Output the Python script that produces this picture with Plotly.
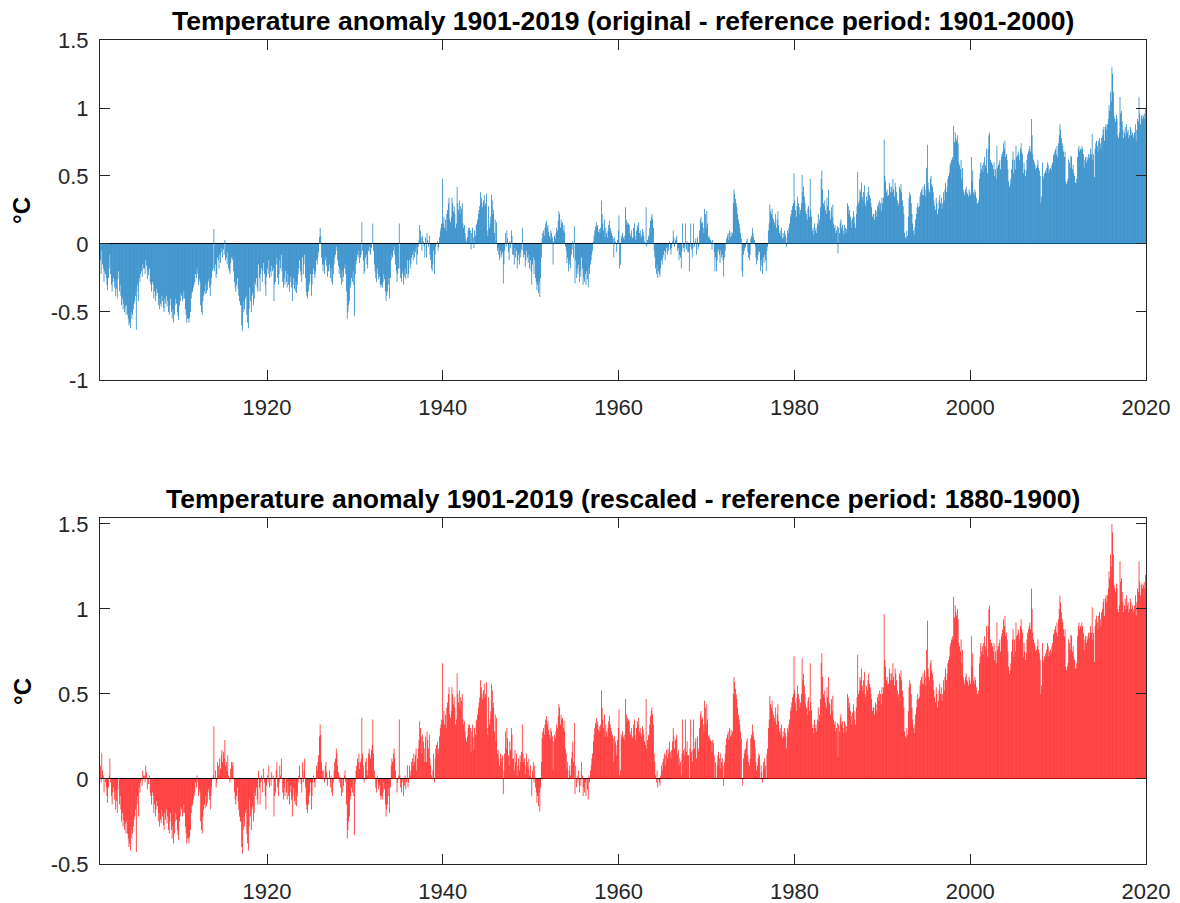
import numpy as np
import plotly.graph_objects as go

# Monthly global temperature anomalies (degC, relative to 1901-2000), one row per year
anom_1901_1910 = [
    -0.12, -0.22, -0.05, -0.15, -0.18, -0.28, -0.20, -0.22, -0.25, -0.30, -0.34, -0.25,
    -0.18, -0.08, -0.22, -0.30, -0.35, -0.28, -0.25, -0.32, -0.27, -0.38, -0.33, -0.40,
    -0.26, -0.20, -0.35, -0.30, -0.38, -0.45, -0.40, -0.48, -0.44, -0.50, -0.46, -0.52,
    -0.45, -0.52, -0.55, -0.60, -0.58, -0.62, -0.50, -0.55, -0.52, -0.48, -0.44, -0.42,
    -0.38, -0.63, -0.35, -0.30, -0.42, -0.25, -0.28, -0.22, -0.20, -0.24, -0.15, -0.18,
    -0.18, -0.22, -0.12, -0.16, -0.26, -0.20, -0.23, -0.18, -0.28, -0.30, -0.35, -0.28,
    -0.30, -0.40, -0.35, -0.42, -0.38, -0.33, -0.36, -0.45, -0.40, -0.48, -0.44, -0.46,
    -0.38, -0.42, -0.47, -0.50, -0.40, -0.44, -0.38, -0.46, -0.42, -0.50, -0.52, -0.45,
    -0.40, -0.50, -0.55, -0.48, -0.58, -0.52, -0.45, -0.40, -0.44, -0.50, -0.53, -0.56,
    -0.45, -0.42, -0.36, -0.38, -0.42, -0.40, -0.35, -0.40, -0.48, -0.52, -0.58, -0.55,
]
anom_1911_1920 = [
    -0.55, -0.58, -0.54, -0.50, -0.40, -0.36, -0.35, -0.32, -0.30, -0.28, -0.22, -0.25,
    -0.18, -0.22, -0.30, -0.26, -0.28, -0.45, -0.50, -0.52, -0.42, -0.38, -0.35, -0.37,
    -0.30, -0.36, -0.34, -0.28, -0.26, -0.32, -0.38, -0.30, -0.25, -0.20, -0.18, 0.11,
    -0.20, -0.15, -0.25, -0.22, -0.10, -0.12, -0.18, -0.08, -0.14, -0.06, -0.03, -0.10,
    -0.04, -0.08, 0.03, -0.12, -0.10, -0.15, -0.06, -0.18, -0.20, -0.22, -0.14, -0.10,
    -0.12, -0.10, -0.20, -0.28, -0.32, -0.35, -0.30, -0.25, -0.33, -0.38, -0.42, -0.45,
    -0.45, -0.60, -0.64, -0.50, -0.42, -0.48, -0.40, -0.38, -0.52, -0.58, -0.62, -0.48,
    -0.32, -0.42, -0.50, -0.38, -0.36, -0.45, -0.40, -0.28, -0.30, -0.25, -0.32, -0.35,
    -0.15, -0.25, -0.35, -0.22, -0.18, -0.28, -0.20, -0.14, -0.22, -0.30, -0.38, -0.24,
    -0.18, -0.22, -0.12, -0.25, -0.20, -0.24, -0.16, -0.20, -0.18, -0.42, -0.30, -0.28,
]
anom_1921_1930 = [
    -0.15, -0.10, -0.25, -0.30, -0.22, -0.12, -0.18, -0.08, -0.20, -0.28, -0.32, -0.25,
    -0.30, -0.20, -0.28, -0.32, -0.22, -0.30, -0.35, -0.28, -0.24, -0.32, -0.42, -0.30,
    -0.25, -0.33, -0.35, -0.28, -0.36, -0.30, -0.22, -0.18, -0.12, -0.20, -0.23, -0.28,
    -0.10, -0.22, -0.15, -0.08, -0.25, -0.35, -0.38, -0.40, -0.35, -0.30, -0.28, -0.22,
    -0.38, -0.30, -0.22, -0.18, -0.22, -0.25, -0.20, -0.12, -0.15, -0.10, -0.06, 0.05,
    0.12, 0.06, -0.10, -0.15, -0.20, -0.15, -0.22, -0.12, -0.10, -0.16, -0.24, -0.20,
    -0.20, -0.15, -0.25, -0.18, -0.28, -0.30, -0.22, -0.15, -0.10, -0.08, -0.02, -0.05,
    -0.12, -0.16, -0.22, -0.18, -0.25, -0.30, -0.20, -0.28, -0.24, -0.18, -0.15, -0.22,
    -0.35, -0.55, -0.50, -0.45, -0.42, -0.32, -0.30, -0.25, -0.28, -0.20, -0.30, -0.53,
    -0.22, -0.15, -0.12, -0.08, -0.10, -0.05, -0.14, -0.10, -0.08, 0.16, -0.05, -0.12,
]
anom_1931_1940 = [
    -0.22, -0.20, -0.10, -0.08, -0.15, -0.18, -0.05, -0.02, -0.06, -0.08, -0.03, 0.00,
    0.15, -0.05, -0.15, -0.20, -0.25, -0.28, -0.18, -0.22, -0.26, -0.24, -0.30, -0.32,
    -0.30, -0.32, -0.28, -0.22, -0.26, -0.35, -0.42, -0.38, -0.35, -0.30, -0.25, -0.40,
    -0.25, -0.12, -0.08, -0.10, -0.05, -0.02, -0.08, -0.15, -0.20, -0.28, -0.22, -0.18,
    0.15, -0.18, -0.25, -0.28, -0.22, -0.20, -0.30, -0.24, -0.18, -0.26, -0.22, -0.12,
    -0.25, -0.22, -0.12, -0.18, -0.15, -0.10, -0.08, -0.12, -0.05, -0.10, -0.06, -0.02,
    -0.15, -0.08, -0.02, 0.03, 0.14, 0.10, 0.05, -0.05, 0.06, 0.02, -0.02, -0.10,
    0.05, -0.10, 0.08, 0.03, -0.02, 0.06, -0.08, -0.12, -0.18, -0.20, -0.15, -0.05,
    -0.22, -0.08, -0.02, 0.00, 0.02, -0.05, -0.02, 0.05, 0.10, 0.12, 0.15, 0.48,
    0.15, 0.20, 0.12, 0.18, 0.10, 0.22, 0.25, 0.30, 0.34, 0.18, 0.16, 0.20,
]
anom_1941_1950 = [
    0.34, 0.30, 0.24, 0.28, 0.22, 0.12, 0.15, 0.42, 0.30, 0.25, 0.32, 0.22,
    0.28, 0.26, 0.30, 0.15, 0.12, 0.14, 0.08, 0.04, 0.02, 0.05, 0.10, 0.12,
    0.12, 0.10, -0.04, 0.08, 0.12, 0.05, -0.03, 0.10, 0.06, 0.14, 0.15, 0.18,
    0.22, 0.25, 0.28, 0.38, 0.34, 0.30, 0.27, 0.32, 0.36, 0.28, 0.30, 0.37,
    0.10, 0.06, 0.28, 0.12, 0.15, 0.20, 0.36, 0.32, 0.22, 0.25, 0.08, 0.18,
    0.02, 0.16, -0.05, -0.03, -0.08, -0.12, -0.05, -0.10, -0.08, -0.06, -0.29, -0.15,
    -0.05, 0.08, -0.02, 0.10, 0.04, -0.06, -0.12, 0.02, -0.03, 0.10, 0.06, -0.08,
    -0.08, -0.15, -0.03, -0.10, -0.05, -0.18, -0.12, -0.08, -0.15, -0.06, -0.10, -0.04,
    0.12, -0.05, -0.10, -0.08, -0.17, -0.12, -0.05, -0.10, -0.14, -0.08, -0.18, -0.12,
    -0.20, -0.30, -0.15, -0.10, -0.22, -0.12, -0.25, -0.28, -0.34, -0.30, -0.36, -0.28,
]
anom_1951_1960 = [
    -0.39, -0.25, -0.10, 0.04, 0.08, 0.10, 0.06, 0.12, 0.15, 0.17, 0.12, 0.14,
    0.09, 0.06, 0.04, 0.10, 0.08, 0.05, -0.15, 0.02, 0.06, 0.04, 0.08, 0.12,
    0.10, 0.17, 0.24, 0.22, 0.12, 0.18, 0.15, 0.16, 0.10, 0.14, 0.08, -0.02,
    -0.05, -0.14, -0.10, -0.20, -0.15, -0.12, -0.18, -0.08, -0.04, 0.02, -0.10, 0.13,
    -0.29, -0.12, -0.25, -0.18, -0.22, -0.15, -0.28, -0.20, -0.24, -0.10, -0.18, -0.30,
    -0.25, -0.28, -0.22, -0.30, -0.20, -0.26, -0.32, -0.18, -0.22, -0.15, -0.12, -0.08,
    -0.05, 0.02, 0.06, 0.10, 0.13, 0.16, 0.12, 0.14, 0.09, 0.11, 0.08, 0.12,
    0.32, 0.22, 0.15, 0.10, 0.18, 0.05, 0.12, 0.08, 0.05, 0.10, 0.14, 0.17,
    0.12, 0.10, 0.08, 0.06, 0.04, -0.10, 0.05, 0.02, 0.00, -0.06, 0.03, 0.10,
    0.21, -0.18, -0.15, 0.06, 0.04, 0.08, 0.05, 0.03, 0.06, 0.27, 0.18, 0.14,
]
anom_1961_1970 = [
    0.16, 0.15, 0.14, 0.08, 0.06, 0.10, 0.04, 0.05, 0.12, 0.15, 0.06, 0.03,
    0.10, 0.14, 0.12, 0.16, 0.08, 0.10, 0.07, 0.05, 0.11, 0.09, 0.06, 0.02,
    0.00, 0.27, -0.02, 0.03, 0.06, 0.05, 0.12, 0.17, 0.20, 0.22, 0.18, 0.12,
    -0.05, -0.10, -0.18, -0.22, -0.15, -0.25, -0.20, -0.22, -0.24, -0.18, -0.12, -0.15,
    -0.10, -0.08, -0.05, -0.12, -0.06, -0.03, -0.08, -0.02, -0.05, 0.02, -0.04, -0.08,
    -0.03, 0.02, 0.10, 0.05, -0.02, 0.03, 0.04, 0.06, -0.05, -0.03, -0.12, -0.08,
    -0.10, -0.18, -0.05, 0.15, -0.03, -0.06, -0.02, 0.15, -0.04, 0.02, -0.06, -0.06,
    -0.20, -0.02, 0.15, -0.04, -0.10, -0.03, 0.15, -0.02, 0.02, 0.04, -0.08, 0.05,
    -0.04, -0.02, 0.10, 0.18, 0.20, 0.15, 0.16, 0.12, 0.08, 0.26, 0.22, 0.12,
    0.24, 0.15, 0.05, 0.06, 0.04, 0.03, 0.02, -0.04, 0.03, 0.01, -0.06, -0.20,
]
anom_1971_1980 = [
    -0.10, -0.20, -0.12, -0.06, -0.04, -0.08, -0.14, -0.05, -0.10, -0.08, -0.12, -0.24,
    -0.10, -0.05, 0.00, 0.04, 0.06, 0.08, 0.03, 0.10, 0.05, 0.09, 0.06, 0.08,
    0.30, 0.40, 0.37, 0.33, 0.30, 0.27, 0.22, 0.18, 0.15, 0.12, 0.08, 0.04,
    -0.20, -0.24, -0.08, -0.05, -0.03, -0.02, 0.02, 0.04, -0.06, -0.10, -0.12, -0.08,
    0.04, 0.06, 0.12, 0.08, 0.05, 0.03, -0.02, -0.10, -0.15, -0.12, -0.08, -0.05,
    -0.06, -0.20, -0.12, -0.16, -0.22, -0.10, -0.14, -0.08, -0.12, -0.20, -0.05, -0.02,
    0.10, 0.15, 0.29, 0.24, 0.22, 0.26, 0.20, 0.18, 0.16, 0.14, 0.22, 0.12,
    0.18, 0.24, 0.14, 0.08, 0.10, 0.06, 0.12, 0.04, 0.08, 0.05, 0.10, 0.07,
    0.05, -0.02, 0.10, 0.08, 0.12, 0.15, 0.20, 0.22, 0.25, 0.28, 0.30, 0.52,
    0.32, 0.25, 0.20, 0.28, 0.35, 0.30, 0.27, 0.22, 0.25, 0.30, 0.51, 0.38,
]
anom_1981_1990 = [
    0.42, 0.35, 0.30, 0.24, 0.22, 0.18, 0.26, 0.28, 0.20, 0.48, 0.25, 0.20,
    0.10, 0.12, 0.07, 0.15, 0.10, 0.12, 0.08, 0.15, 0.22, 0.14, 0.18, 0.27,
    0.48, 0.54, 0.40, 0.30, 0.28, 0.32, 0.25, 0.22, 0.34, 0.28, 0.40, 0.25,
    0.24, 0.18, 0.27, 0.20, 0.29, 0.15, 0.12, 0.14, 0.08, 0.10, 0.13, -0.07,
    0.12, 0.08, 0.16, 0.18, 0.12, 0.14, 0.10, 0.07, 0.14, 0.12, 0.08, 0.11,
    0.30, 0.28, 0.22, 0.25, 0.20, 0.17, 0.12, 0.19, 0.24, 0.20, 0.15, 0.12,
    0.22, 0.28, 0.53, 0.30, 0.32, 0.40, 0.38, 0.45, 0.35, 0.32, 0.38, 0.43,
    0.30, 0.28, 0.35, 0.32, 0.38, 0.42, 0.36, 0.34, 0.30, 0.27, 0.20, 0.22,
    0.22, 0.18, 0.25, 0.24, 0.20, 0.28, 0.30, 0.26, 0.32, 0.30, 0.24, 0.34,
    0.30, 0.34, 0.77, 0.50, 0.46, 0.38, 0.40, 0.35, 0.36, 0.45, 0.42, 0.38,
]
anom_1991_2000 = [
    0.42, 0.38, 0.48, 0.40, 0.35, 0.45, 0.42, 0.38, 0.32, 0.28, 0.30, 0.42,
    0.40, 0.44, 0.38, 0.32, 0.28, 0.22, 0.08, 0.05, 0.04, 0.10, 0.06, 0.20,
    0.34, 0.38, 0.36, 0.30, 0.22, 0.15, 0.10, 0.07, 0.12, 0.18, 0.22, 0.27,
    0.30, 0.27, 0.28, 0.35, 0.38, 0.40, 0.36, 0.42, 0.36, 0.44, 0.40, 0.35,
    0.56, 0.73, 0.45, 0.40, 0.38, 0.48, 0.50, 0.44, 0.42, 0.38, 0.32, 0.28,
    0.25, 0.34, 0.30, 0.22, 0.26, 0.32, 0.36, 0.30, 0.34, 0.26, 0.30, 0.38,
    0.32, 0.40, 0.45, 0.38, 0.42, 0.48, 0.50, 0.52, 0.58, 0.60, 0.62, 0.64,
    0.62, 0.87, 0.75, 0.82, 0.78, 0.76, 0.80, 0.74, 0.60, 0.58, 0.55, 0.62,
    0.48, 0.56, 0.40, 0.38, 0.36, 0.40, 0.42, 0.38, 0.37, 0.35, 0.40, 0.38,
    0.36, 0.64, 0.46, 0.54, 0.38, 0.36, 0.40, 0.38, 0.34, 0.30, 0.30, 0.32,
]
anom_2001_2010 = [
    0.48, 0.52, 0.60, 0.55, 0.58, 0.53, 0.60, 0.64, 0.58, 0.56, 0.70, 0.52,
    0.70, 0.80, 0.82, 0.62, 0.60, 0.60, 0.58, 0.55, 0.60, 0.50, 0.55, 0.48,
    0.72, 0.56, 0.58, 0.60, 0.62, 0.55, 0.64, 0.66, 0.68, 0.74, 0.70, 0.76,
    0.64, 0.66, 0.62, 0.55, 0.46, 0.42, 0.44, 0.48, 0.55, 0.62, 0.68, 0.52,
    0.62, 0.55, 0.72, 0.64, 0.65, 0.68, 0.66, 0.62, 0.70, 0.74, 0.68, 0.66,
    0.52, 0.60, 0.55, 0.50, 0.54, 0.62, 0.66, 0.68, 0.70, 0.72, 0.68, 0.92,
    0.80, 0.66, 0.62, 0.60, 0.58, 0.55, 0.56, 0.58, 0.62, 0.56, 0.54, 0.50,
    0.30, 0.35, 0.60, 0.50, 0.48, 0.52, 0.54, 0.52, 0.56, 0.60, 0.58, 0.52,
    0.55, 0.56, 0.54, 0.58, 0.60, 0.65, 0.66, 0.68, 0.70, 0.66, 0.72, 0.64,
    0.74, 0.80, 0.88, 0.84, 0.78, 0.74, 0.72, 0.68, 0.64, 0.68, 0.46, 0.44,
]
anom_2011_2019 = [
    0.46, 0.48, 0.62, 0.60, 0.56, 0.65, 0.64, 0.55, 0.58, 0.52, 0.50, 0.45,
    0.45, 0.48, 0.64, 0.70, 0.72, 0.68, 0.70, 0.69, 0.72, 0.70, 0.66, 0.56,
    0.62, 0.64, 0.60, 0.64, 0.62, 0.66, 0.63, 0.66, 0.70, 0.66, 0.81, 0.62,
    0.66, 0.49, 0.70, 0.74, 0.76, 0.72, 0.68, 0.76, 0.78, 0.74, 0.70, 0.78,
    0.80, 0.84, 0.86, 0.76, 0.86, 0.88, 0.84, 0.88, 0.92, 1.02, 0.98, 1.12,
    1.05, 1.30, 1.25, 1.12, 0.94, 0.92, 0.90, 0.95, 0.92, 0.80, 0.78, 0.82,
    1.08, 0.96, 0.98, 0.90, 0.84, 0.78, 0.82, 0.86, 0.80, 0.88, 0.82, 0.84,
    0.78, 0.80, 0.86, 0.84, 0.80, 0.82, 0.78, 0.80, 0.82, 0.88, 0.76, 0.84,
    0.92, 0.90, 1.08, 0.96, 0.88, 0.94, 0.95, 0.92, 0.94, 0.96, 0.92, 1.00,
]

# Shift from the 1901-2000 baseline to the 1880-1900 baseline
baseline_shift = 0.20

first_year = 1901
x_ticks = [1920, 1940, 1960, 1980, 2000, 2020]
y_ticks_top = [-1, -0.5, 0, 0.5, 1, 1.5]
y_ticks_bottom = [-0.5, 0, 0.5, 1, 1.5]

original = np.array(
    anom_1901_1910 + anom_1911_1920 + anom_1921_1930 + anom_1931_1940
    + anom_1941_1950 + anom_1951_1960 + anom_1961_1970 + anom_1971_1980
    + anom_1981_1990 + anom_1991_2000 + anom_2001_2010 + anom_2011_2019
)
rescaled = original + baseline_shift
months = np.arange(len(original))
t = first_year + (months + 0.5) / 12.0

AXIS_COLOR = "#262626"
FONT = "Liberation Sans, Arial, Helvetica, sans-serif"
TOP_DOMAIN = [0.5874, 1.0]
BOTTOM_DOMAIN = [0.0, 0.4199]


def fmt(v):
    return "%g" % v


fig = go.Figure()
fig.add_trace(go.Bar(x=t, y=original, marker=dict(color="#0072BD", line=dict(width=0)),
                     xaxis="x", yaxis="y", showlegend=False))
fig.add_trace(go.Bar(x=t, y=rescaled, marker=dict(color="#FF0000", line=dict(width=0)),
                     xaxis="x2", yaxis="y2", showlegend=False))

common_x = dict(range=[1901, 2020], tickvals=x_ticks, ticktext=[str(v) for v in x_ticks],
                ticks="inside", ticklen=10, tickwidth=1, tickcolor=AXIS_COLOR,
                showline=True, linecolor=AXIS_COLOR, linewidth=1, mirror="ticks",
                showgrid=False, zeroline=False, layer="above traces",
                ticklabelstandoff=8, automargin=False,
                tickfont=dict(family=FONT, size=22, color=AXIS_COLOR))
common_y = dict(ticks="inside", ticklen=10, tickwidth=1, tickcolor=AXIS_COLOR,
                showline=True, linecolor=AXIS_COLOR, linewidth=1, mirror="ticks",
                showgrid=False, zeroline=True, zerolinecolor="#000000", zerolinewidth=1,
                layer="above traces", ticklabelstandoff=6, automargin=False,
                tickfont=dict(family=FONT, size=22, color=AXIS_COLOR))

title_font = dict(family=FONT, size=26.5, color="#000000")
label_font = dict(family=FONT, size=24, color="#000000")

fig.update_layout(
    width=1180, height=903,
    margin=dict(l=100, r=34, t=40, b=39, autoexpand=False),
    paper_bgcolor="white", plot_bgcolor="white",
    bargap=0.1,
    xaxis=dict(domain=[0, 1], anchor="y", **common_x),
    yaxis=dict(domain=TOP_DOMAIN, anchor="x", range=[-1, 1.5],
               tickvals=y_ticks_top, ticktext=[fmt(v) for v in y_ticks_top], **common_y),
    xaxis2=dict(domain=[0, 1], anchor="y2", **common_x),
    yaxis2=dict(domain=BOTTOM_DOMAIN, anchor="x2", range=[-0.5, 1.535],
                tickvals=y_ticks_bottom, ticktext=[fmt(v) for v in y_ticks_bottom], **common_y),
    annotations=[
        dict(text="<b>Temperature anomaly 1901-2019 (original - reference period: 1901-2000)</b>",
             x=0.5, xref="paper", y=TOP_DOMAIN[1], yref="paper", yshift=2,
             xanchor="center", yanchor="bottom", showarrow=False, font=title_font),
        dict(text="<b>Temperature anomaly 1901-2019 (rescaled - reference period: 1880-1900)</b>",
             x=0.5, xref="paper", y=BOTTOM_DOMAIN[1], yref="paper", yshift=2,
             xanchor="center", yanchor="bottom", showarrow=False, font=title_font),
        dict(text="<b>°C</b>", x=-0.0746, xref="paper", y=sum(TOP_DOMAIN) / 2, yref="paper",
             textangle=-90, showarrow=False, xanchor="center", yanchor="middle", font=label_font),
        dict(text="<b>°C</b>", x=-0.0746, xref="paper", y=sum(BOTTOM_DOMAIN) / 2, yref="paper",
             textangle=-90, showarrow=False, xanchor="center", yanchor="middle", font=label_font),
    ],
)

fig.write_html("out.html", config={"staticPlot": True})
